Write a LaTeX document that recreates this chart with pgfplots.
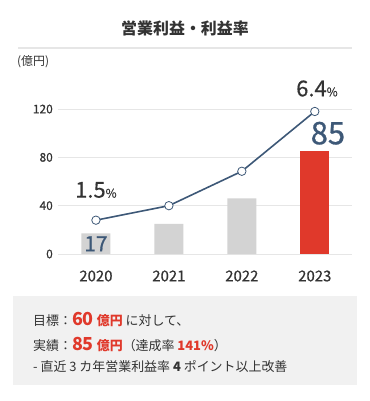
\documentclass[border=0pt]{standalone}
\usepackage{pgfplots}
\pgfplotsset{compat=1.18}
\usepackage{fontspec}
\setmainfont{Noto Sans CJK JP}
\newfontfamily\medfont[FakeBold=0.8]{Noto Sans CJK JP}
\newfontfamily\semifont[FakeBold=0.4]{Noto Sans CJK JP}
\definecolor{txt}{HTML}{333333}
\definecolor{lineblue}{HTML}{3D5877}
\definecolor{bargray}{HTML}{D3D3D3}
\definecolor{barred}{HTML}{E0392B}
\definecolor{boxgray}{HTML}{F1F1F1}
\definecolor{gridgray}{HTML}{E6E6E6}
\newcommand{\fs}[1]{\fontsize{#1}{#1}\selectfont}
\begin{document}
\begin{tikzpicture}
\path[use as bounding box] (0bp,0bp) rectangle (370bp,-401bp);
\node[font=\bfseries\fs{16}, text=txt] at (185bp,-28bp) {営業利益・利益率};
\draw[gridgray, line width=1.5bp] (18bp,-48bp) -- (352bp,-48bp);
\node[anchor=west, font=\fs{12}, text=txt, inner sep=0pt] at (17bp,-62bp) {(億円)};
\begin{axis}[
  at={(58bp,-254bp)}, anchor=south west,
  scale only axis, width=294bp, height=169.1bp,
  xmin=-0.52, xmax=3.51, ymin=0, ymax=140,
  axis line style={draw=none},
  ymajorgrids, grid style={gridgray, line width=0.8bp},
  ytick={0,40,80,120},
  xtick={0,1,2,3}, xticklabels={2020,2021,2022,2023},
  major tick length=0pt,
  clip=false,
  yticklabel style={anchor=east, xshift=-5bp, inner sep=0pt, font=\semifont\fs{12}, text=txt},
  xticklabel style={anchor=center, yshift=-22bp, inner sep=0pt, font=\semifont\fs{15}, text=txt},
  /pgf/number format/assume math mode=true,
]
\addplot[ybar, bar width=29bp, bar shift=0pt, fill=bargray, draw=none] coordinates {(0,17) (1,25) (2,46)};
\addplot[ybar, bar width=29bp, bar shift=0pt, fill=barred, draw=none] coordinates {(3,85)};
\addplot[lineblue, line width=1.6bp, mark=*, mark size=4.2bp, mark options={fill=white, draw=lineblue, line width=0.8bp}] coordinates {(0,28) (1,40) (2,68.5) (3,118)};
\node[text=txt, inner sep=0pt, font=\semifont] at (axis cs:0,53) {{\fs{22}1.5}{\fs{12}\%}};
\node[text=txt, inner sep=0pt, font=\semifont] at (axis cs:3.03,137) {{\fs{22}6.4}{\fs{12}\%}};
\node[text=lineblue, inner sep=0pt, font=\medfont\fs{31}] at (axis cs:3.18,100) {85};
\node[text=lineblue, inner sep=0pt, font=\medfont\fs{21}] at (axis cs:0,8.5) {17};
\end{axis}
\fill[boxgray] (13bp,-296bp) rectangle (357bp,-385bp);
\node[anchor=base west, inner sep=0pt, text=txt, font=\fs{13}] at (33bp,-325bp) {目標：{\color{barred}\bfseries{\fs{18}60} 億円} に対して、};
\node[anchor=base west, inner sep=0pt, text=txt, font=\fs{13}] at (33bp,-350bp) {実績：{\color{barred}\bfseries{\fs{18}85} 億円}（達成率 {\color{barred}\bfseries 141\%}）};
\node[anchor=base west, inner sep=0pt, text=txt, font=\fs{13}] at (33bp,-371bp) {- 直近 3 カ年営業利益率 {\bfseries 4} ポイント以上改善};
\end{tikzpicture}
\end{document}
